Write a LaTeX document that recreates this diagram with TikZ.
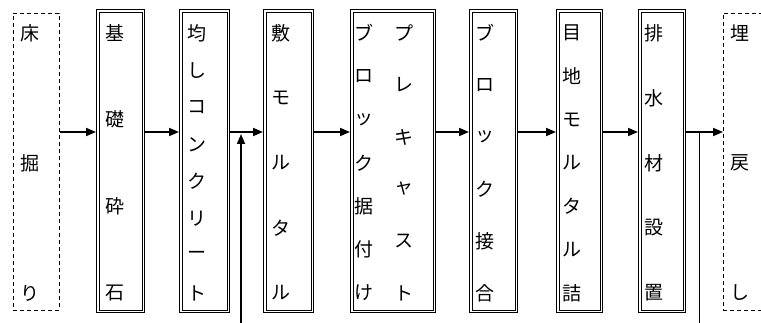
\documentclass[tikz,border=0pt]{standalone}
\usepackage{fontspec}
\newfontfamily\jp{Noto Sans CJK JP}
\usetikzlibrary{arrows.meta}
\newcommand\vcol[4]{% name, x, count, list
  \foreach \ch [count=\i from 0] in {#4} {
    \node[chr] (#1-\i) at (#2, {33+\i*260/(#3-1)}) {\ch};
  }
}
\newcommand\inbox[1]{\draw[ibox] ([shift={(3pt,-3pt)}]#1.north west) rectangle ([shift={(-3pt,3pt)}]#1.south east);}
\begin{document}
\begin{tikzpicture}[x=1pt,y=-1pt,
  obox/.style={draw, line width=1.2pt, minimum height=303pt, inner sep=0pt, anchor=north west},
  ibox/.style={draw, line width=0.6pt},
  dbox/.style={draw, line width=0.9pt, dash pattern=on 4pt off 3pt, minimum height=297pt, inner sep=0pt, anchor=north west},
  chr/.style={font=\jp\fontsize{19pt}{22pt}\selectfont, inner sep=0pt, anchor=center},
  arr/.style={line width=1.8pt, -{Triangle[length=10pt,width=8pt]}},
  thinline/.style={line width=0.8pt}]
\useasboundingbox (0,0) rectangle (761,323);
\clip (0,0) rectangle (761,323);
% boxes
\node[dbox, minimum width=46pt] (b0) at (13,13) {};
\node[obox, minimum width=48pt] (b1) at (96,9) {};
\node[obox, minimum width=50pt] (b2) at (179,9) {};
\node[obox, minimum width=50pt] (b3) at (263,9) {};
\node[obox, minimum width=85pt] (b4) at (350,9) {};
\node[obox, minimum width=48pt] (b5) at (469,9) {};
\node[obox, minimum width=46pt] (b6) at (556,9) {};
\node[obox, minimum width=47pt] (b7) at (638,9) {};
\node[dbox, minimum width=50pt] (b8) at (723,13) {};
\inbox{b1}\inbox{b2}\inbox{b3}\inbox{b4}\inbox{b5}\inbox{b6}\inbox{b7}
% texts
\vcol{t0}{30}{3}{床,掘,り}
\vcol{t1}{115}{4}{基,礎,砕,石}
\vcol{t2}{197}{8}{均,し,コ,ン,ク,リ,ー,ト}
\vcol{t3}{281}{5}{敷,モ,ル,タ,ル}
\vcol{t4a}{364}{7}{ブ,ロ,ッ,ク,据,付,け}
\vcol{t4b}{404}{6}{プ,レ,キ,ャ,ス,ト}
\vcol{t5}{485}{6}{ブ,ロ,ッ,ク,接,合}
\vcol{t6}{572}{7}{目,地,モ,ル,タ,ル,詰}
\vcol{t7}{654}{5}{排,水,材,設,置}
\vcol{t8}{740}{3}{埋,戻,し}
% connectors
\coordinate (ay) at (0,132);
\draw[arr] (b0.east |- ay) -- (b1.west |- ay);
\draw[arr] (b1.east |- ay) -- (b2.west |- ay);
\draw[arr] (b2.east |- ay) -- (b3.west |- ay);
\draw[arr] (b3.east |- ay) -- (b4.west |- ay);
\draw[arr] (b4.east |- ay) -- (b5.west |- ay);
\draw[arr] (b5.east |- ay) -- (b6.west |- ay);
\draw[arr] (b6.east |- ay) -- (b7.west |- ay);
\draw[arr] (b7.east |- ay) -- (b8.west |- ay);
\coordinate (v1) at (241,330);
\coordinate (v1t) at (241,134);
\draw[arr] (v1) -- (v1t);
\coordinate (v2) at (699,330);
\draw[thinline] (v2) -- (v2 |- ay);
\end{tikzpicture}
\end{document}
